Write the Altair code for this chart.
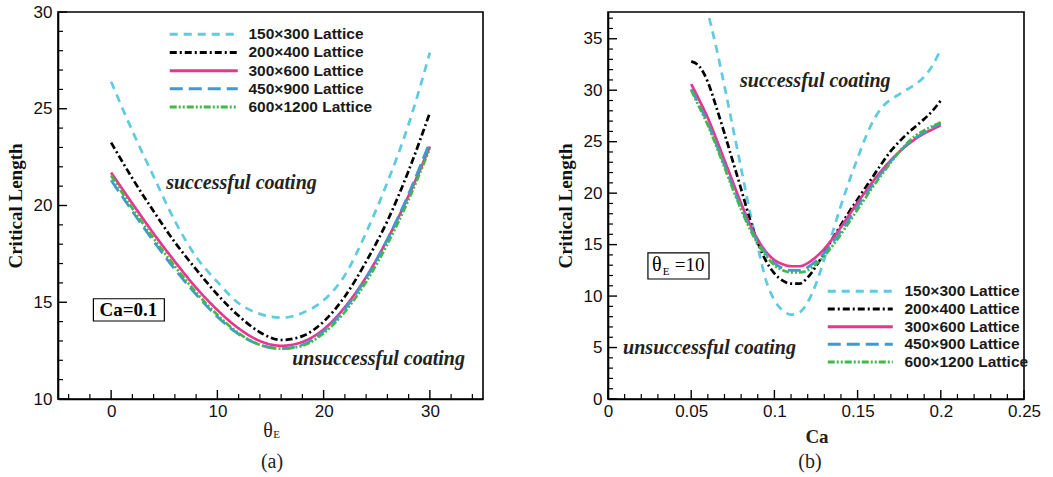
import altair as alt
import pandas as pd

# ---------------- data ----------------
series = ["150×300 Lattice", "200×400 Lattice", "300×600 Lattice",
          "450×900 Lattice", "600×1200 Lattice"]
colors = ["#5ecbe0", "#000000", "#e8368f", "#3d9ad8", "#45b64a"]
dashes = [[8, 6], [7, 3, 2, 3], [1, 0], [13, 6], [7, 2, 2, 2, 2, 2]]

# panel (a): Critical length vs theta_E at Ca = 0.1
theta_e = [0, 2, 4, 6, 8, 10, 12, 14, 16, 18, 20, 22, 24, 26, 28, 30]
a_150 = [26.4, 23.85, 21.5, 19.2, 17.35, 16.05, 14.95, 14.4, 14.2, 14.45, 15.1, 16.4, 18.6, 21.2, 24.2, 27.9]
a_200 = [23.25, 21.4, 19.7, 18.1, 16.7, 15.4, 14.3, 13.45, 13.05, 13.25, 14.0, 15.3, 17.1, 19.2, 21.8, 24.8]
a_300 = [21.7, 20.1, 18.55, 17.1, 15.75, 14.6, 13.65, 13.0, 12.75, 12.95, 13.6, 14.75, 16.3, 18.25, 20.5, 23.05]
a_450 = [21.3, 19.7, 18.15, 16.7, 15.4, 14.25, 13.35, 12.8, 12.6, 12.8, 13.5, 14.65, 16.25, 18.25, 20.6, 23.3]
a_600 = [21.55, 19.85, 18.3, 16.85, 15.5, 14.35, 13.4, 12.8, 12.6, 12.75, 13.4, 14.5, 16.05, 18.0, 20.3, 22.95]

# panel (b): Critical length vs Ca at theta_E = 10
ca = [0.050, 0.055, 0.060, 0.065, 0.070, 0.075, 0.080, 0.085, 0.090, 0.095,
      0.100, 0.105, 0.110, 0.115, 0.120, 0.125, 0.130, 0.135, 0.140, 0.145,
      0.150, 0.155, 0.160, 0.165, 0.170, 0.175, 0.180, 0.185, 0.190, 0.195, 0.200]
b_150 = [45.0, 41.3, 37.6, 34.2, 30.4, 26.4, 22.4, 18.4, 14.8, 11.5,
         9.6, 8.6, 8.2, 8.4, 9.4, 11.2, 13.6, 16.2, 18.8, 21.2,
         23.4, 25.5, 27.2, 28.4, 29.1, 29.6, 30.1, 30.6, 31.3, 32.4, 34.0]
b_200 = [32.8, 32.3, 30.8, 28.4, 25.8, 23.1, 20.4, 17.6, 15.2, 13.4,
         12.2, 11.5, 11.2, 11.2, 11.8, 12.9, 14.2, 15.6, 16.9, 18.2,
         19.4, 20.6, 21.8, 23.0, 24.1, 25.0, 25.8, 26.5, 27.2, 28.0, 29.0]
b_300 = [30.6, 29.0, 27.3, 25.3, 23.2, 21.1, 19.0, 17.1, 15.5, 14.3,
         13.5, 13.1, 12.9, 12.9, 13.2, 13.8, 14.6, 15.6, 16.7, 17.9,
         19.1, 20.2, 21.3, 22.3, 23.2, 24.0, 24.7, 25.3, 25.8, 26.2, 26.6]
b_450 = [30.1, 28.5, 26.8, 24.8, 22.7, 20.6, 18.6, 16.8, 15.3, 14.1,
         13.2, 12.7, 12.5, 12.5, 12.8, 13.4, 14.2, 15.2, 16.3, 17.5,
         18.7, 19.9, 21.0, 22.1, 23.1, 24.0, 24.8, 25.4, 25.9, 26.4, 26.8]
b_600 = [30.0, 28.3, 26.6, 24.6, 22.5, 20.4, 18.4, 16.6, 15.1, 13.9,
         13.0, 12.5, 12.3, 12.3, 12.5, 13.1, 13.9, 14.9, 16.0, 17.2,
         18.4, 19.6, 20.8, 21.9, 23.0, 24.0, 24.9, 25.6, 26.1, 26.5, 26.9]

# axis ticks
a_x_major = [0, 10, 20, 30]
a_x_minor = [-4, -2, 2, 4, 6, 8, 12, 14, 16, 18, 22, 24, 26, 28, 32, 34]
a_y_major = [10, 15, 20, 25, 30]
a_y_minor = [v for v in range(11, 30) if v % 5 != 0]
b_x_major = [0, 0.05, 0.1, 0.15, 0.2, 0.25]
b_x_minor = [round(i * 0.01, 2) for i in range(1, 25) if i % 5 != 0]
b_y_major = [0, 5, 10, 15, 20, 25, 30, 35]
b_y_minor = [v for v in range(1, 38) if v % 5 != 0]

# annotations (data coordinates)
a_notes = pd.DataFrame({"x": [12.27, 25.17], "y": [21.15, 12.05],
                        "t": ["successful coating", "unsuccessful coating"]})
b_notes = pd.DataFrame({"x": [0.1246, 0.061], "y": [30.9, 4.99],
                        "t": ["successful coating", "unsuccessful coating"]})
a_box = pd.DataFrame({"x": [-1.67], "x2": [5.01], "y": [14.03], "y2": [15.18]})
a_box_text = pd.DataFrame({"x": [1.62], "y": [14.6], "t": ["Ca=0.1"]})
b_box = pd.DataFrame({"x": [0.024], "x2": [0.0607], "y": [11.66], "y2": [14.19]})
b_box_theta = pd.DataFrame({"x": [0.0293], "y": [13.05], "t": ["θ"]})
b_box_sub = pd.DataFrame({"x": [0.0349], "y": [12.3], "t": ["E"]})
b_box_val = pd.DataFrame({"x": [0.049], "y": [13.05], "t": ["=10"]})

H = 387
WA = 425
WB = 416
A_XDOM = [-5, 35]
A_YDOM = [10, 30]
B_XDOM = [0, 0.25]
B_YDOM = [0, 37.6]
MAJOR_PX = 9
MINOR_PX = 5
TICK_COLOR = "black"


def long_df(xs, ys_list):
    rows = []
    for name, ys in zip(series, ys_list):
        for xv, yv in zip(xs, ys):
            rows.append({"x": xv, "y": yv, "series": name})
    return pd.DataFrame(rows)


df_a = long_df(theta_e, [a_150, a_200, a_300, a_450, a_600])
df_b = long_df(ca, [b_150, b_200, b_300, b_450, b_600])

SERIF = "Liberation Serif"
SANS = "Liberation Sans"


def make_legend(lx, ly, path, offset, rowpad):
    return alt.Legend(orient="none", legendX=lx, legendY=ly, title=None,
                      symbolType=path, symbolSize=100, symbolStrokeWidth=3,
                      labelFont=SANS, labelFontSize=15.5, labelFontWeight="bold",
                      labelColor="#1a1a1a", labelOffset=offset, rowPadding=rowpad,
                      padding=0, labelLimit=300)


def tick_layers(X, Y, W, xdom, ydom, x_major, x_minor, y_major, y_minor):
    # inward ticks; lengths in pixels converted through the panel scales
    ux = (xdom[1] - xdom[0]) / W
    uy = (ydom[1] - ydom[0]) / H
    out = []
    for vals, px, sw in ((x_major, MAJOR_PX, 1.4), (x_minor, MINOR_PX, 1.2)):
        d = pd.DataFrame({"x": vals, "y": [ydom[0]] * len(vals),
                          "y2": [ydom[0] + px * uy] * len(vals)})
        out.append(alt.Chart(d).mark_rule(color=TICK_COLOR, strokeWidth=sw)
                   .encode(x=X, y=Y, y2="y2:Q"))
    for vals, px, sw in ((y_major, MAJOR_PX, 1.4), (y_minor, MINOR_PX, 1.2)):
        d = pd.DataFrame({"y": vals, "x": [xdom[0]] * len(vals),
                          "x2": [xdom[0] + px * ux] * len(vals)})
        out.append(alt.Chart(d).mark_rule(color=TICK_COLOR, strokeWidth=sw)
                   .encode(y=Y, x=X, x2="x2:Q"))
    return out


def panel(df, X, Y, W, xdom, ydom, legend, x_major, x_minor, y_major, y_minor,
          notes, box, box_texts, outside):
    lines = alt.Chart(df).mark_line(strokeWidth=2.7, clip=True, interpolate="monotone").encode(
        x=X, y=Y,
        color=alt.Color("series:N", scale=alt.Scale(domain=series, range=colors), legend=legend),
        strokeDash=alt.StrokeDash("series:N", scale=alt.Scale(domain=series, range=dashes), legend=legend),
    )
    layers = [lines]
    layers.append(alt.Chart(notes).mark_text(font=SERIF, fontSize=20, fontWeight="bold",
                                             fontStyle="italic", color="#222222",
                                             align="center", baseline="middle")
                  .encode(x=X, y=Y, text="t:N"))
    layers.append(alt.Chart(box).mark_rect(fill="white", stroke="black", strokeWidth=1.2)
                  .encode(x=X, x2="x2:Q", y=Y, y2="y2:Q"))
    for df_t, size, weight in box_texts:
        layers.append(alt.Chart(df_t).mark_text(font=SERIF, fontSize=size, fontWeight=weight,
                                                color="black", align="center", baseline="middle")
                      .encode(x=X, y=Y, text="t:N"))
    for txt, px, py, size, weight in outside:
        layers.append(alt.Chart(pd.DataFrame({"t": [txt]})).mark_text(
            font=SERIF, fontSize=size, fontWeight=weight, color="#222222",
            align="center", baseline="middle")
            .encode(x=alt.value(px), y=alt.value(py), text="t:N"))
    layers += tick_layers(X, Y, W, xdom, ydom, x_major, x_minor, y_major, y_minor)
    return alt.layer(*layers).properties(width=W, height=H)


XA = alt.X("x:Q", scale=alt.Scale(domain=A_XDOM, nice=False, zero=False),
           axis=alt.Axis(values=a_x_major, title=None))
YA = alt.Y("y:Q", scale=alt.Scale(domain=A_YDOM, nice=False, zero=False),
           axis=alt.Axis(values=a_y_major, title="Critical Length"))
XB = alt.X("x:Q", scale=alt.Scale(domain=B_XDOM, nice=False, zero=False),
           axis=alt.Axis(values=b_x_major, title=None, format="~g"))
YB = alt.Y("y:Q", scale=alt.Scale(domain=B_YDOM, nice=False, zero=False),
           axis=alt.Axis(values=b_y_major, title="Critical Length"))

left = panel(df_a, XA, YA, WA, A_XDOM, A_YDOM, make_legend(138, 14.5, "M-6.8,0H6.8", 37, 1.2),
             a_x_major, a_x_minor, a_y_major, a_y_minor,
             a_notes, a_box, [(a_box_text, 19, "bold")],
             [("θ", 210, H + 32, 20, "normal"), ("E", 218.5, H + 36, 11, "normal"),
              ("(a)", 214, H + 63, 20, "normal")])

right = panel(df_b, XB, YB, WB, B_XDOM, B_YDOM, make_legend(244.5, 271.5, "M-6.5,0H6.5", 36.5, 0.7),
              b_x_major, b_x_minor, b_y_major, b_y_minor,
              b_notes, b_box, [(b_box_theta, 20, "normal"), (b_box_sub, 11, "normal"),
                               (b_box_val, 19, "normal")],
              [("Ca", 209, H + 38, 19, "bold"), ("(b)", 202, H + 63, 20, "normal")])

chart = alt.hconcat(left, right, spacing=71).resolve_scale(
    color="independent", strokeDash="independent"
).properties(
    padding={"left": 5, "top": 2, "right": 0, "bottom": 0}
).configure_view(
    stroke="black", strokeWidth=1.6
).configure_axis(
    grid=False, ticks=False, tickSize=0, domainColor="black", domainWidth=1.6,
    labelFont=SANS, labelFontSize=17, labelColor="#111111", labelFlush=False,
    labelOverlap=False,
    titleFont=SERIF, titleFontSize=19, titleFontWeight="bold", titleColor="#111111"
).configure_axisX(
    labelPadding=4
).configure_axisY(
    labelPadding=6, titlePadding=8
)

chart.save("out.html", embed_options={"renderer": "svg", "actions": False})
